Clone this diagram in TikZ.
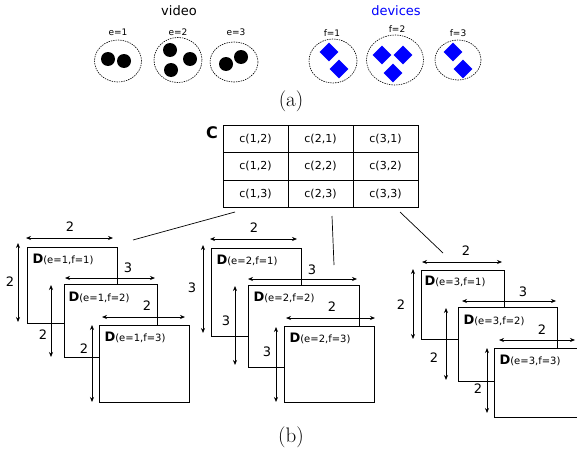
\documentclass[tikz,border=0pt]{standalone}
\usepackage{fontspec}
\setsansfont{DejaVu Sans}
\usetikzlibrary{arrows.meta,shapes.geometric}

\tikzset{
  grp/.style={ellipse, draw, dash pattern=on 1.4pt off 1pt, line width=0.6pt, inner sep=0pt},
  idx/.style={font=\sffamily\fontsize{9}{11}\selectfont},
  dev/.style={diamond, fill=blue, minimum size=19pt, inner sep=0pt},
  cell/.style={draw, line width=0.7pt, minimum width=65pt, minimum height=27.3pt, inner sep=0pt, font=\sffamily\fontsize{11}{13}\selectfont},
  dbox/.style={draw, fill=white, line width=0.7pt, anchor=north west, inner sep=0pt},
  dim/.style={<->, line width=0.7pt},
  num/.style={font=\sffamily\fontsize{13}{15}\selectfont},
  captxt/.style={font=\rmfamily\fontsize{21}{24}\selectfont}
}
\newcommand{\dlab}[1]{{\fontsize{13}{15}\selectfont\bfseries D}{\fontsize{10}{12}\selectfont(#1)}}

\begin{document}
\begin{tikzpicture}[x=1pt, y=-1pt, font=\sffamily, >={Stealth[length=5pt,width=4pt]}]
\useasboundingbox (0,0) rectangle (577,460);
\clip (0,0) rectangle (577,460);

% (a) video and devices
\node[font=\sffamily\fontsize{13}{15}\selectfont] (video) at (179,11) {video};
\node[idx] at (118,32) {e=1};
\node[idx] at (178,32) {e=2};
\node[idx] at (236,32) {e=3};
\node[grp, minimum width=47pt, minimum height=42pt] (e1) at (118,61) {};
\node[grp, minimum width=48pt, minimum height=45pt] (e2) at (178,60) {};
\node[grp, minimum width=48pt, minimum height=40pt] (e3) at (234,62) {};
\fill (108,59) circle (7pt) (124,61) circle (7pt);
\fill (170,50) circle (7pt) (190,59) circle (7pt) (171,70) circle (7pt);
\fill (226,64) circle (7pt) (241,57) circle (7pt);

\node[font=\sffamily\fontsize{13}{15}\selectfont, text=blue] (devices) at (396,11) {devices};
\node[idx] at (332,33) {f=1};
\node[idx] at (397,29) {f=2};
\node[idx] at (458,33) {f=3};
\node[grp, minimum width=48pt, minimum height=44pt] (f1) at (333,61) {};
\node[grp, minimum width=57pt, minimum height=50pt] (f2) at (395,60) {};
\node[grp, minimum width=46pt, minimum height=40pt] (f3) at (458,60) {};
\node[dev] at (329,52) {};
\node[dev] at (339,69) {};
\node[dev] at (382,55) {};
\node[dev] at (403,55) {};
\node[dev] at (393,73) {};
\node[dev] at (453,52) {};
\node[dev] at (463,69) {};

\node[captxt] (capa) at (291,101) {(a)};

% (b) cost table
\node[font=\sffamily\fontsize{16}{18}\selectfont\bfseries] (C) at (212,133) {C};
\foreach \r/\y in {1/139, 2/166.3, 3/193.6} {
  \node[cell] (c1\r) at (255.5,\y) {};
  \node[cell] (c2\r) at (320.5,\y) {};
  \node[cell] (c3\r) at (385.5,\y) {};
}
\node[cell, draw=none] at (c11) {c(1,2)};
\node[cell, draw=none] at (c21) {c(2,1)};
\node[cell, draw=none] at (c31) {c(3,1)};
\node[cell, draw=none] at (c12) {c(1,2)};
\node[cell, draw=none] at (c22) {c(2,2)};
\node[cell, draw=none] at (c32) {c(3,2)};
\node[cell, draw=none] at (c13) {c(1,3)};
\node[cell, draw=none] at (c23) {c(2,3)};
\node[cell, draw=none] at (c33) {c(3,3)};

\coordinate (t1) at (235,212);
\coordinate (t2) at (332,216);
\coordinate (t3) at (400,212);
\coordinate (s1) at (133,240);
\coordinate (s2) at (334,265);
\coordinate (s3) at (443,253);
\draw[line width=0.7pt] (t1) -- (s1);
\draw[line width=0.7pt] (t2) -- (s2);
\draw[line width=0.7pt] (t3) -- (s3);

% stack e=1
\node[dbox, minimum width=90pt, minimum height=76pt] (d11) at (27,247) {};
\node[anchor=west] at (29,259) {\dlab{e=1,f=1}};
\draw[dim] (26,238) -- (113,238);
\node[num] at (70,227) {2};
\draw[dim] (18,243) -- (18,322);
\node[num] at (10,282) {2};
\node[dbox, minimum width=93pt, minimum height=73pt] (d12) at (64,284) {};
\node[anchor=west] at (65,297) {\dlab{e=1,f=2}};
\draw[dim] (65,278) -- (155,278);
\node[num] at (128,268) {3};
\draw[dim] (51,285) -- (51,357);
\node[num] at (43,335) {2};
\node[dbox, minimum width=90pt, minimum height=77pt] (d13) at (99,325) {};
\node[anchor=west] at (101,337) {\dlab{e=1,f=3}};
\draw[dim] (102,317) -- (185,317);
\node[num] at (147,306) {2};
\draw[dim] (92,325) -- (92,402);
\node[num] at (84,349) {2};

% stack e=2
\node[dbox, minimum width=90pt, minimum height=88pt] (d21) at (211,248) {};
\node[anchor=west] at (213,260) {\dlab{e=2,f=1}};
\draw[dim] (210,239) -- (297,239);
\node[num] at (254,228) {2};
\draw[dim] (203,245) -- (203,333);
\node[num] at (192,288) {3};
\node[dbox, minimum width=111pt, minimum height=82pt] (d22) at (248,285) {};
\node[anchor=west] at (250,297) {\dlab{e=2,f=2}};
\draw[dim] (248,279) -- (357,279);
\node[num] at (312,270) {3};
\draw[dim] (235,286) -- (235,365);
\node[num] at (226,321) {3};
\node[dbox, minimum width=90pt, minimum height=76pt] (d23) at (284,326) {};
\node[anchor=west] at (286,338) {\dlab{e=2,f=3}};
\draw[dim] (286,318) -- (375,318);
\node[num] at (332,307) {2};
\draw[dim] (276,327) -- (276,402);
\node[num] at (267,352) {3};

% stack e=3
\node[dbox, minimum width=83pt, minimum height=69pt] (d31) at (421,270) {};
\node[anchor=west] at (421,281) {\dlab{e=3,f=1}};
\draw[dim] (422,262) -- (502,262);
\node[num] at (466,251) {2};
\draw[dim] (413,269) -- (413,339);
\node[num] at (401,305) {2};
\node[dbox, minimum width=99pt, minimum height=74pt] (d32) at (458,307) {};
\node[anchor=west] at (460,320) {\dlab{e=3,f=2}};
\draw[dim] (462,301) -- (556,301);
\node[num] at (523,292) {3};
\draw[dim] (446,308) -- (446,380);
\node[num] at (434,358) {2};
\node[dbox, minimum width=95pt, minimum height=69pt] (d33) at (494,348) {};
\node[anchor=west] at (496,360) {\dlab{e=3,f=3}};
\draw[dim] (499,340) -- (575,340);
\node[num] at (542,330) {2};
\draw[dim] (487,348) -- (487,413);
\node[num] at (478,389) {2};

\node[captxt] (capb) at (291,437) {(b)};
\end{tikzpicture}
\end{document}
